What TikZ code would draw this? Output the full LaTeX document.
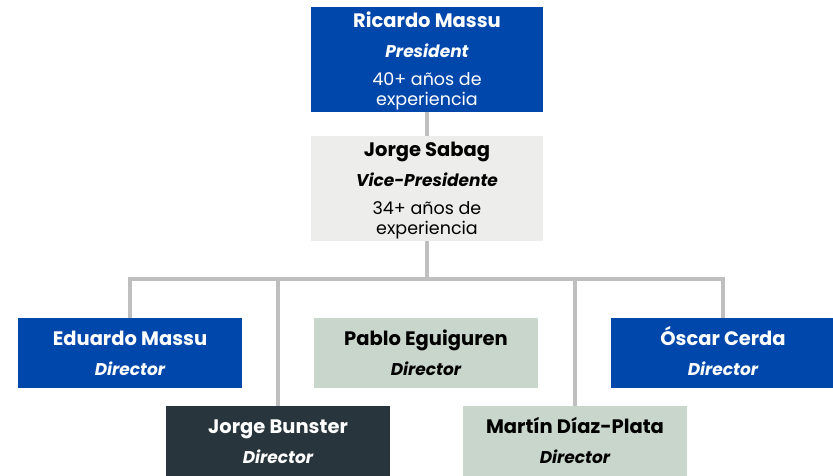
\documentclass[tikz,border=0pt]{standalone}
\usepackage{fontspec}
\setmainfont{Poppins}
\usepackage{tikz}
\usetikzlibrary{calc}
\definecolor{boardblue}{RGB}{0,71,171}
\definecolor{vicegrey}{RGB}{237,237,235}
\definecolor{sagegreen}{RGB}{201,214,204}
\definecolor{slatedark}{RGB}{40,53,61}
\definecolor{linkgrey}{RGB}{191,191,191}
\newcommand{\pname}[1]{{\fontsize{19.5}{21}\selectfont\bfseries\vphantom{Óg}#1}}
\newcommand{\prole}[1]{{\fontsize{17}{21}\selectfont\bfseries\itshape\vphantom{Óg}#1}}

\begin{document}
\begin{tikzpicture}[x=1pt,y=-1pt,
  member/.style={rectangle, inner sep=0pt, align=center, minimum width=224pt, minimum height=70pt,
    font=\fontsize{17.5}{21}\selectfont},
  chair/.style={member, minimum width=232pt, minimum height=105pt},
  link/.style={draw=linkgrey, line width=4pt}]
						\useasboundingbox (0,0) rectangle (833,475);

						\node[chair, fill=boardblue, text=white] (ricardo) at (427,59.5)
						{\pname{Ricardo Massu}\\[7pt] \prole{President}\\[7pt]
						40+ años de\\[-1pt] experiencia};
						\node[chair, fill=vicegrey, text=black] (sabag) at (427,188.5)
						{\pname{Jorge Sabag}\\[7pt] \prole{Vice-Presidente}\\[7pt]
						34+ años de\\[-1pt] experiencia};

						\node[member, fill=boardblue, text=white] (eduardo) at (130,353)
						{\pname{Eduardo Massu}\\[7pt] \prole{Director}};
						\node[member, fill=sagegreen, text=black] (pablo) at (426,353)
						{\pname{Pablo Eguiguren}\\[7pt] \prole{Director}};
						\node[member, fill=boardblue, text=white] (oscar) at (723,353)
						{\pname{Óscar Cerda}\\[7pt] \prole{Director}};
						\node[member, fill=slatedark, text=white] (bunster) at (278,441)
						{\pname{Jorge Bunster}\\[7pt] \prole{Director}};
						\node[member, fill=sagegreen, text=black] (martin) at (575,441)
						{\pname{Martín Díaz-Plata}\\[7pt] \prole{Director}};

						\coordinate (bus) at (427,279);

						\draw[link] (ricardo.south) -- (sabag.north);
						\draw[link] (sabag.south) -- (bus);
						\draw[link] (eduardo.north) |- (bus);
						\draw[link] (oscar.north) |- (bus);
						\draw[link] (bunster.north) -- (bunster.north |- bus);
						\draw[link] (martin.north) -- (martin.north |- bus);
					\end{tikzpicture}
\end{document}
